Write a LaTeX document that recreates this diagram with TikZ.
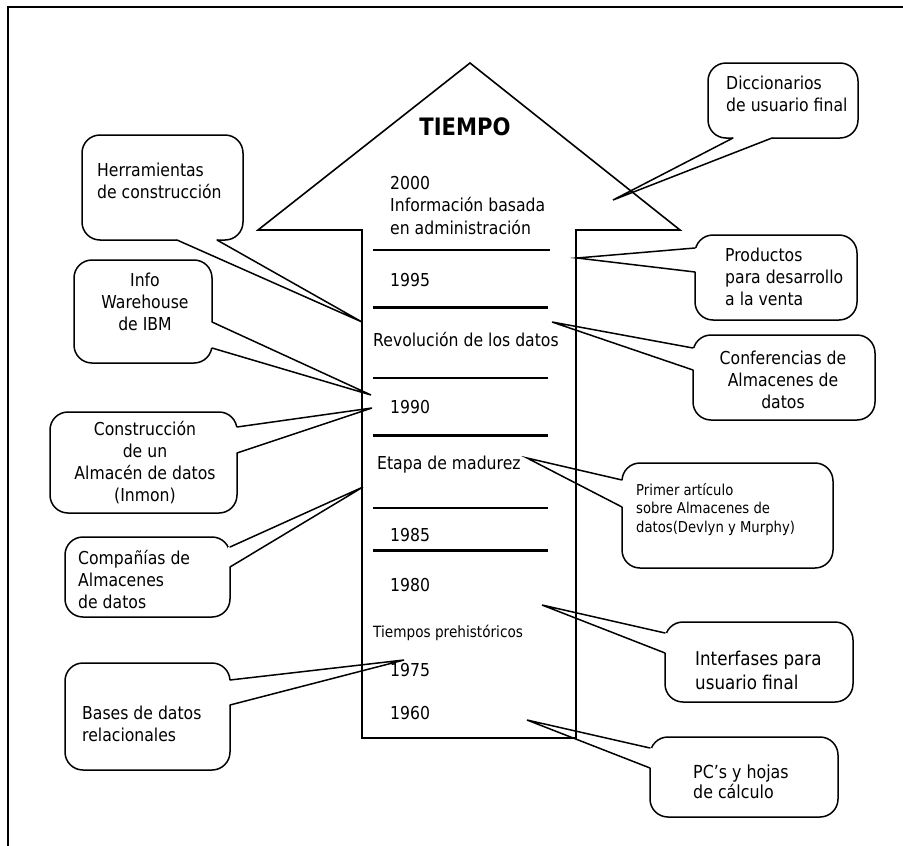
\documentclass[tikz,border=0pt]{standalone}
\usepackage{fontspec}
\setmainfont{DejaVu Sans}[FakeStretch=0.88]
\newcommand\mainsz{\fontsize{17.8}{22}\selectfont}
\newcommand\smallsz{\fontsize{15}{18.5}\selectfont}
\newcommand\prehsz{\fontsize{15.5}{18}\selectfont}
\newcommand\intersz{\fontsize{19}{24}\selectfont}
\newcommand\pcsz{\fontsize{18}{20.5}\selectfont}
\newcommand\titlesz{\fontsize{24}{28}\selectfont\bfseries}

\tikzset{
  frame/.style={line width=1.5pt},
  arrowline/.style={line width=1.6pt, line join=miter},
  thinrule/.style={line width=1.4pt},
  thickrule/.style={line width=3pt},
  cbox/.style={draw, line width=1.5pt, fill=white, rounded corners=18pt,
               inner sep=0pt, outer sep=0pt},
  lbl/.style={inner sep=0pt, align=left, font=\mainsz},
  clbl/.style={inner sep=0pt, align=center, font=\mainsz},
  tailline/.style={line width=1.5pt, line join=miter, line cap=round},
}

% pointer of a callout: opens the box border between two base points
% and runs two straight edges to the tip
\newcommand\calltail[3]{%
  \draw[white, line width=3.4pt] (#1) -- (#2);
  \draw[tailline] (#1) -- (#3) -- (#2);}

\begin{document}
\begin{tikzpicture}[x=1pt, y=-1pt]
  \useasboundingbox (0,0) rectangle (903,846);

  % page frame (top and left edges)
  \draw[frame] (903,7) -- (8,7) -- (8,846);

  % time arrow
  \draw[arrowline] (470,63) -- (680,230) -- (576,230) -- (576,738)
                   -- (362,738) -- (362,230) -- (258,230) -- cycle;

  % period rules inside the arrow
  \draw[thinrule]  (373,250) -- (550,250);
  \draw[thickrule] (373,307) -- (548,307);
  \draw[thinrule]  (373,378) -- (548,378);
  \draw[thickrule] (373,435) -- (548,435);
  \draw[thinrule]  (373,508) -- (548,508);
  \draw[thickrule] (373,550) -- (548,550);

  % labels inside the arrow
  \node[inner sep=0pt, font=\titlesz] (titulo) at (465,127) {TIEMPO};
  \node[lbl, anchor=west, font=\fontsize{17.8}{22.5}\selectfont] (y2000) at (390,205.5)
       {2000\\Información basada\\en administración};
  \node[lbl, anchor=west] (y1995) at (390,280) {1995};
  \node[lbl, anchor=west] (revol) at (373,340) {Revolución de los datos};
  \node[lbl, anchor=west] (y1990) at (390,407) {1990};
  \node[lbl, anchor=west] (etapa) at (377,465) {Etapa de madurez};
  \node[lbl, anchor=west] (y1985) at (390,535) {1985};
  \node[lbl, anchor=west] (y1980) at (390,585) {1980};
  \node[lbl, anchor=west, font=\prehsz] (prehist) at (373,633) {Tiempos prehistóricos};
  \node[lbl, anchor=west] (y1975) at (390,670) {1975};
  \node[lbl, anchor=west] (y1960) at (390,713) {1960};

  % pointer tips
  \coordinate (tHerr)  at (362,322);
  \coordinate (tIbm)   at (371,395);
  \coordinate (tCons)  at (372,408);
  \coordinate (tComp)  at (363,487);
  \coordinate (tBases) at (404,660);
  \coordinate (tDicc)  at (613,200);
  \coordinate (tProd)  at (577,258);
  \coordinate (tConf)  at (552,322);
  \coordinate (tPrim)  at (527,458);
  \coordinate (tInter) at (542,605);
  \coordinate (tPcs)   at (527,720);

  % callout boxes, left side
  \node[cbox, minimum width=161pt, minimum height=105pt] (herr)  at (162.5,187.5) {};
  \node[cbox, minimum width=138pt, minimum height=103pt] (ibm)   at (143,311.5) {};
  \node[cbox, minimum width=187pt, minimum height=101pt] (cons)  at (143.5,462.5) {};
  \node[cbox, minimum width=165pt, minimum height=80pt]  (comp)  at (147.5,577) {};
  \node[cbox, minimum width=165pt, minimum height=107pt] (bases) at (147.5,716.5) {};

  % callout boxes, right side
  \node[cbox, minimum width=150pt, minimum height=75pt]  (dicc)  at (783,100.5) {};
  \node[cbox, minimum width=162pt, minimum height=85pt]  (prod)  at (776,277.5) {};
  \node[cbox, minimum width=182pt, minimum height=85pt]  (conf)  at (784,377.5) {};
  \node[cbox, minimum width=211pt, minimum height=105pt] (prim)  at (727.5,515.5) {};
  \node[cbox, minimum width=188pt, minimum height=80pt]  (inter) at (759,662) {};
  \node[cbox, minimum width=188pt, minimum height=80pt]  (pcs)   at (744,777) {};

  % callout texts
  \node[lbl, anchor=west] (herrT) at (97,181) {Herramientas\\de construcción};
  \node[clbl] (ibmT) at (145,301.5) {Info\\Warehouse\\de IBM};
  \node[clbl] (consT) at (145,463) {Construcción\\de un\\Almacén de datos\\(Inmon)};
  \node[lbl, anchor=west] (compT) at (78,580) {Compañías de\\Almacenes\\de datos};
  \node[lbl, anchor=west] (basesT) at (82,724) {Bases de datos\\relacionales};
  \node[lbl, anchor=west] (diccT) at (726,94) {Diccionarios\\de usuario final};
  \node[lbl, anchor=west] (prodT) at (725,277) {Productos\\para desarrollo\\a la venta};
  \node[clbl] (confT) at (783,379.5) {Conferencias de\\Almacenes de\\datos};
  \node[lbl, anchor=west, font=\smallsz] (primT) at (636,509.5)
       {Primer artículo\\sobre Almacenes de\\datos(Devlyn y Murphy)};
  \node[lbl, anchor=west, font=\intersz] (interT) at (695,670) {Interfases para\\usuario final};
  \node[lbl, anchor=west, font=\pcsz] (pcsT) at (693,782) {PC’s y hojas\\de cálculo};

  % pointers
  \calltail{[xshift=95pt]herr.south west}{[xshift=135pt]herr.south west}{tHerr}
  \calltail{[yshift=-62pt]ibm.north east}{[yshift=-88pt]ibm.north east}{tIbm}
  \calltail{[yshift=-15pt]cons.north east}{[yshift=-41pt]cons.north east}{tCons}
  \calltail{[yshift=-10pt]comp.north east}{[yshift=-30pt]comp.north east}{tComp}
  \calltail{[yshift=-17pt]bases.north east}{[yshift=-42pt]bases.north east}{tBases}
  \calltail{[xshift=25pt]dicc.south west}{[xshift=64pt]dicc.south west}{tDicc}
  \calltail{[yshift=-13pt]prod.north west}{[yshift=-37pt]prod.north west}{tProd}
  \calltail{[yshift=-13pt]conf.north west}{[yshift=-35pt]conf.north west}{tConf}
  \calltail{[yshift=-17pt]prim.north west}{[yshift=-44pt]prim.north west}{tPrim}
  \calltail{[yshift=-11pt]inter.north west}{[yshift=-31pt]inter.north west}{tInter}
  \calltail{[yshift=-11pt]pcs.north west}{[yshift=-31pt]pcs.north west}{tPcs}
\end{tikzpicture}
\end{document}
